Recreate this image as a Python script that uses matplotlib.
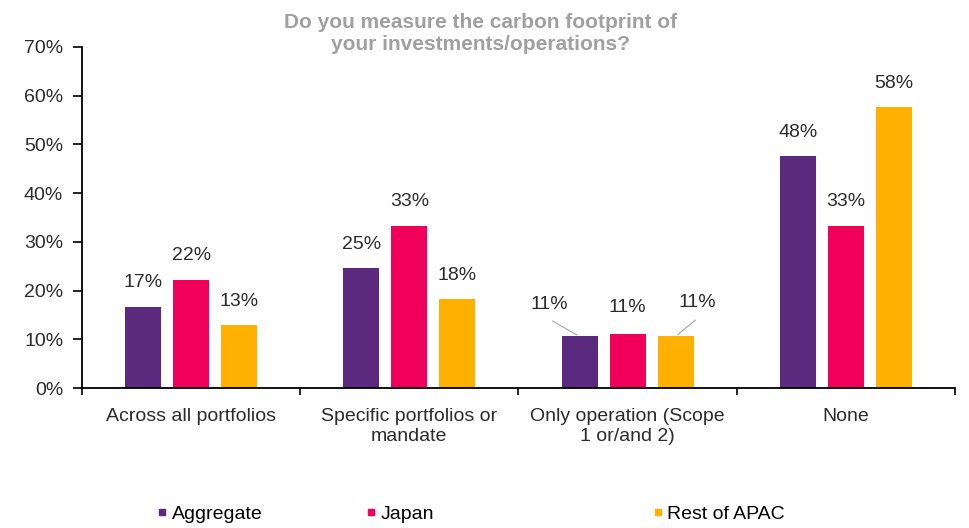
import matplotlib
matplotlib.use("Agg")
import matplotlib.pyplot as plt
from matplotlib.lines import Line2D
import numpy as np

plt.rcParams['font.family'] = ['Liberation Sans', 'DejaVu Sans']

title = "Do you measure the carbon footprint of\nyour investments/operations?"
categories = ["Across all portfolios", "Specific portfolios or\nmandate",
              "Only operation (Scope\n1 or/and 2)", "None"]
series_names = ["Aggregate", "Japan", "Rest of APAC"]
aggregate = [16.7, 24.6, 10.6, 47.6]
japan = [22.2, 33.3, 11.1, 33.3]
rest_apac = [12.9, 18.2, 10.6, 57.6]
y_ticks = [0, 10, 20, 30, 40, 50, 60, 70]

colors = ['#5b2a7f', '#f0005a', '#ffb000']
series = [aggregate, japan, rest_apac]
FS = 14
TXT = '#2b2b2b'

fig = plt.figure(figsize=(9.7, 5.28), dpi=100)
ax = fig.add_axes([0.0845, 0.265, 0.9, 0.646])

x = np.arange(len(categories))
width = 0.165
offsets = [-0.22, 0.0, 0.22]

# label offsets in pixels (dx, dy) for the crowded group
special = {(0, 2): (-30, 32), (2, 2): (22, 34), (1, 2): (0, 26)}
PT = 0.72  # px -> pt at 100 dpi

for si, (vals, col, off) in enumerate(zip(series, colors, offsets)):
    bars = ax.bar(x + off, vals, width, color=col, zorder=2)
    for ci, (b, v) in enumerate(zip(bars, vals)):
        cx = b.get_x() + b.get_width() / 2
        txt = f"{round(v):d}%"
        if (si, ci) in special:
            dx, dy = special[(si, ci)]
            ax.annotate(txt, (cx, v), xytext=(dx * PT, dy * PT),
                        textcoords='offset points', ha='center', va='center',
                        fontsize=FS, color=TXT)
            if dx != 0:
                ax.annotate("", (cx, v), xytext=(dx * PT * 0.9, dy * PT * 0.48),
                            textcoords='offset points',
                            arrowprops=dict(arrowstyle='-', color='#a6a6a6', lw=0.8,
                                            shrinkA=0, shrinkB=2))
        else:
            ax.annotate(txt, (cx, v), xytext=(0, 24 * PT),
                        textcoords='offset points', ha='center', va='center',
                        fontsize=FS, color=TXT)

ax.set_xlim(-0.5, len(categories) - 0.5)
ax.set_ylim(0, 70)
ax.set_yticks(y_ticks)
ax.set_yticklabels([f"{t}%" for t in y_ticks], fontsize=FS, color=TXT)
ax.set_xticks(x)
ax.set_xticklabels(categories, fontsize=FS, color=TXT, linespacing=1.25)
ax.set_xticks(np.arange(len(categories) + 1) - 0.5, minor=True)
ax.tick_params(axis='x', which='major', length=0, pad=14)
ax.tick_params(axis='x', which='minor', length=5, direction='out', width=1.2)
ax.tick_params(axis='y', length=6.5, direction='out', width=1.2, pad=7)

for s in ['top', 'right']:
    ax.spines[s].set_visible(False)
ax.spines['left'].set_linewidth(1.3)
ax.spines['bottom'].set_linewidth(1.3)

fig.text(0.495, 0.975, title, ha='center', va='top', fontsize=15,
         fontweight='bold', color='#a0a0a0', linespacing=1.16)

leg_x = [0.157, 0.372, 0.668]
for name, col, lx in zip(series_names, colors, leg_x):
    h = Line2D([], [], marker='s', linestyle='none', color=col, markersize=5)
    fig.legend([h], [name], loc='center left', bbox_to_anchor=(lx, 0.027),
               frameon=False, fontsize=FS, handletextpad=0.0, handlelength=1.0,
               borderpad=0, borderaxespad=0)

fig.savefig("out.png", dpi=100)
